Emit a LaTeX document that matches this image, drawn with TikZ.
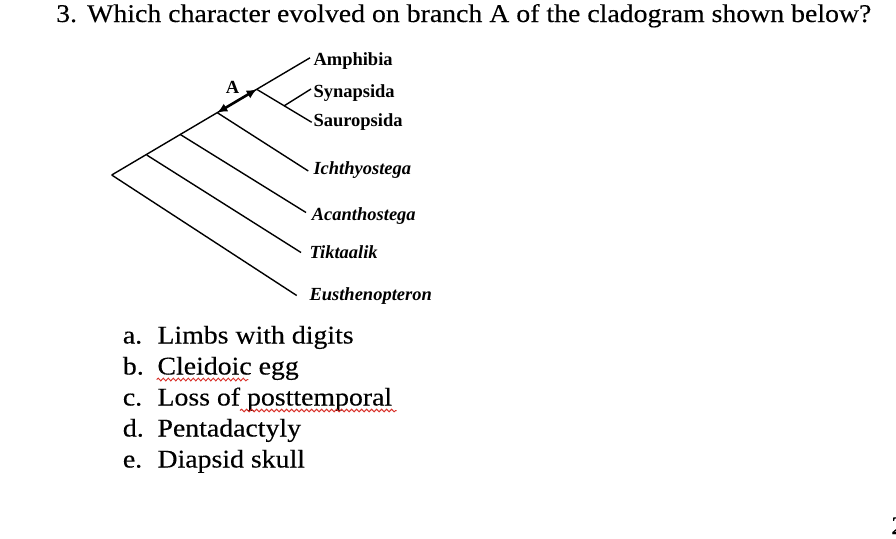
\documentclass[tikz,border=0pt]{standalone}
\usepackage{fontspec}
\setmainfont{Liberation Serif}
\newfontfamily\qfont[FakeStretch=1.09,FakeBold=0.3]{Liberation Serif}
\usetikzlibrary{arrows.meta,calc,decorations.pathmorphing}
\definecolor{ink}{HTML}{000000}
\definecolor{squig}{HTML}{D8322B}

\tikzset{
  taxon/.style={font=\fontsize{18.5}{18.5}\selectfont\bfseries,anchor=west,inner sep=0pt,text height=12.2pt,text depth=0pt},
  genus/.style={taxon,font=\fontsize{18.5}{18.5}\selectfont\bfseries\itshape},
  clade/.style={line width=1.4pt,ink},
  choice/.style={font=\qfont\fontsize{25.5}{25.5}\selectfont,anchor=base west,inner sep=0pt},
  spell/.style={squig,line width=1pt,decorate,decoration={snake,amplitude=1.3pt,segment length=5pt}}
}

\begin{document}
\begin{tikzpicture}[x=1pt,y=-1pt]
        \useasboundingbox (0,0) rectangle (896,538);
        % question
        \node[choice] (qnum) at (56,22) {3.};
        \node[choice] (qtext) at (87,22) {Which character evolved on branch A of the cladogram shown below?};
        % cladogram
        \coordinate (root) at (111.7,175);
        \coordinate (n1) at (146.7,155);
        \coordinate (n2) at (180,134.3);
        \coordinate (n3) at (217.3,112.7);
        \coordinate (n4) at (256.7,89.3);
        \coordinate (tamph) at (310,57.8);
        \coordinate (tsyn) at (311,89);
        \coordinate (tsaur) at (311.7,122.3);
        \coordinate (tichth) at (308.3,171);
        \coordinate (tacan) at (306,212.5);
        \coordinate (ttikt) at (301,252.5);
        \coordinate (teust) at (296.7,295.5);
        \coordinate (n5) at ($(n4)!0.5!(tsaur)$);
        \node[taxon] (amph) at (313.3,59) {Amphibia};
        \node[taxon] (syn) at (313.3,91.7) {Synapsida};
        \node[taxon] (saur) at (313.3,120) {Sauropsida};
        \node[genus] (ichth) at (313.3,168.3) {Ichthyostega};
        \node[genus] (acan) at (311.7,214) {Acanthostega};
        \node[genus] (tikt) at (309.3,252.5) {Tiktaalik};
        \node[genus] (eust) at (309.3,294) {Eusthenopteron};
        \draw[clade] (root) -- (tamph);
        \draw[clade] (root) -- (teust);
        \draw[clade] (n1) -- (ttikt);
        \draw[clade] (n2) -- (tacan);
        \draw[clade] (n3) -- (tichth);
        \draw[clade] (n4) -- (tsaur);
        \draw[clade] (n5) -- (tsyn);
        \draw[ink,line width=2.6pt,{Latex[length=10pt,width=9pt]}-{Latex[length=10pt,width=9pt]}] (n3) -- (n4);
        \node[font=\fontsize{18.5}{18.5}\selectfont\bfseries] (brA) at (232.5,87.5) {A};
        % answers
        \foreach \l/\t [count=\i] in {a./Limbs with digits,b./Cleidoic egg,c./Loss of posttemporal,d./Pentadactyly,e./Diapsid skull}
          {
          \node[choice] (lab\i) at (122.7,{312.5+31*\i}) {\l};
          \node[choice] (opt\i) at (157.3,{312.5+31*\i}) {\t};
          }
        \draw[spell] (156.7,379.5) -- (248.3,379.5);
        \draw[spell] (240,410.5) -- (396.7,410.5);
        % page number
        \node[choice] (page) at (891,534) {2};
      \end{tikzpicture}
\end{document}
